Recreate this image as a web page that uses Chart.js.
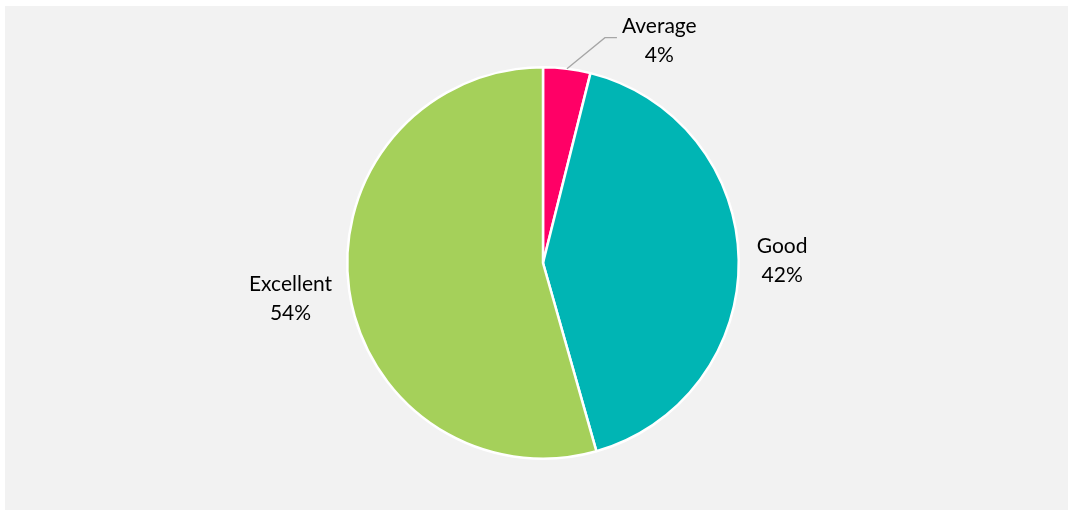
<!DOCTYPE html>
<html>
<head>
<meta charset="utf-8">
<script src="https://cdn.jsdelivr.net/npm/chart.js@4.4.1/dist/chart.umd.min.js"></script>
<style>
  html, body { margin: 0; padding: 0; background: #fff; }
  #wrap { width: 1070px; height: 512px; }
</style>
</head>
<body>
<div id="wrap"><canvas id="myChart" width="1070" height="512"></canvas></div>
<script>
const categories = ['Average', 'Good', 'Excellent'];
const shares = [3.9, 41.7, 54.4];
const sliceColors = ['#FF0066', '#00B5B4', '#A5D05A'];

const ctx = document.getElementById('myChart').getContext('2d');
const labelFont = '21px Lato, "Open Sans", sans-serif';

// grey plot background like the original office chart
const panelBg = {
    id: 'panelBg',
    beforeDraw(chart) {
        const c = chart.ctx;
        c.save();
        c.fillStyle = '#F2F2F2';
        c.fillRect(5, 6, 1063, 504);
        c.restore();
    }
};

// outside labels: "name" over "pct%", first one pulled out with a leader line
const outsideLabels = {
    id: 'outsideLabels',
    afterDatasetsDraw(chart) {
        const c = chart.ctx;
        const meta = chart.getDatasetMeta(0);
        c.save();
        c.font = labelFont;
        c.fillStyle = '#000';
        c.textAlign = 'center';
        c.textBaseline = 'middle';
        const lineGap = 29;
        meta.data.forEach((arc, i) => {
            const p = arc.getProps(['x', 'y', 'startAngle', 'endAngle', 'outerRadius'], true);
            const mid = (p.startAngle + p.endAngle) / 2;
            const dx = Math.cos(mid), dy = Math.sin(mid);
            const lines = [categories[i], Math.round(shares[i]) + '%'];
            const w = Math.max(...lines.map(t => c.measureText(t).width));
            let cx, cy;
            if (i === 0) {
                const ax = p.x + p.outerRadius * dx;
                const ay = p.y + p.outerRadius * dy;
                const ex = ax + 38, ey = ay - 31;
                c.strokeStyle = '#A6A6A6';
                c.lineWidth = 1.3;
                c.beginPath();
                c.moveTo(ax, ay);
                c.lineTo(ex, ey);
                c.lineTo(ex + 12, ey);
                c.stroke();
                cx = ex + 12 + 5 + w / 2;
                cy = ey + 3;
            } else {
                const rr = p.outerRadius + 18 + w / 2 * Math.abs(dx);
                cx = p.x + rr * dx;
                cy = p.y + rr * dy + 1;
            }
            c.fillText(lines[0], cx, cy - lineGap / 2);
            c.fillText(lines[1], cx, cy + lineGap / 2);
        });
        c.restore();
    }
};

new Chart(ctx, {
    type: 'pie',
    data: {
        labels: categories,
        datasets: [{
            data: shares,
            backgroundColor: sliceColors,
            borderColor: '#FFFFFF',
            borderWidth: 2.5
        }]
    },
    options: {
        responsive: false,
        animation: false,
        layout: {
            padding: { top: 66, bottom: 52, left: 16, right: 0 }
        },
        plugins: {
            legend: { display: false },
            tooltip: { enabled: false }
        }
    },
    plugins: [panelBg, outsideLabels]
});
</script>
</body>
</html>
